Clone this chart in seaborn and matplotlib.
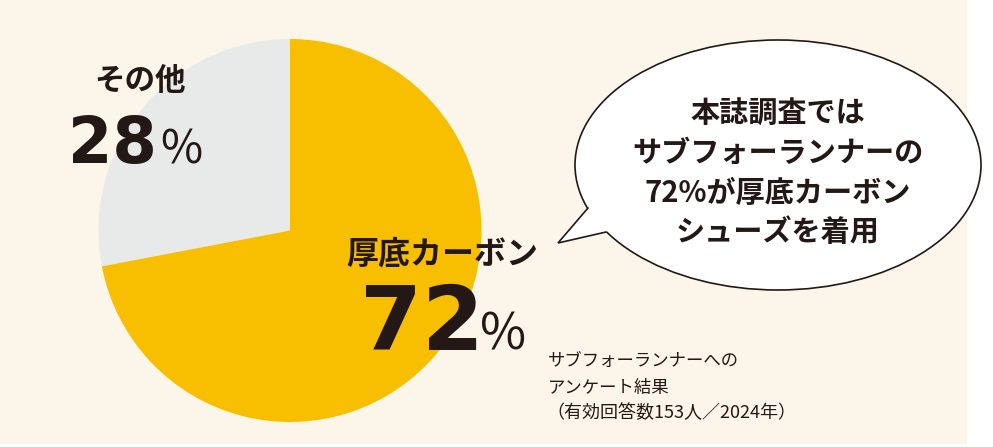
import matplotlib.pyplot as plt
from matplotlib.patches import Ellipse, Polygon, Rectangle
import seaborn as sns

# data
labels = ["その他", "厚底カーボン"]
shares = [28, 72]
bubble_lines = ["本誌調査では", "サブフォーランナーの", "72%が厚底カーボン", "シューズを着用"]
note_lines = ["サブフォーランナーへの", "アンケート結果", "（有効回答数153人／2024年）"]

sns.set_theme(style="white")
plt.rcParams['font.family'] = ['Noto Sans CJK JP', 'DejaVu Sans']

ink = '#231815'
cream = '#fcf6ea'
colors = ['#e8e9e9', '#f8bf00']

fig = plt.figure(figsize=(9.93, 4.47), dpi=100, facecolor='white')
ax = fig.add_axes([0, 0, 1, 1])

# cream panel (the picture has a thin white margin right and bottom)
ax.add_patch(Rectangle((0, 0), 967, 444, facecolor=cream, edgecolor='none', zorder=0))

# pie, y axis is flipped so angles run the other way
ax.pie(shares, colors=colors, startangle=-90, counterclock=False,
       center=(290, 230.5), radius=191.5, frame=True,
       wedgeprops=dict(linewidth=0, zorder=1))

# speech bubble
ax.add_patch(Ellipse((778, 165), 406, 250, facecolor='white', edgecolor=ink, linewidth=1.2, zorder=2))
tail = [(588, 208), (558, 243), (606, 232)]
ax.add_patch(Polygon(tail + [(630, 215)], closed=True, facecolor='white', edgecolor='none', zorder=3))
ax.plot([p[0] for p in tail], [p[1] for p in tail], color=ink, linewidth=1.2, zorder=4,
        solid_joinstyle='miter')

for i, line in enumerate(bubble_lines):
    ax.text(778, 114 + i * 39.3, line, ha='center', va='center', fontsize=21,
            fontweight='bold', color=ink, zorder=5)

# slice labels
ax.text(140, 81, labels[0], ha='center', va='center', fontsize=22, fontweight='bold', color=ink, zorder=5)
ax.text(68, 163, f"{shares[0]}", ha='left', va='baseline', fontsize=46, fontweight='bold',
        family='DejaVu Sans', color=ink, zorder=5)
ax.text(160, 163, "%", ha='left', va='baseline', fontsize=33, color=ink, zorder=5)

ax.text(346, 254, labels[1], ha='left', va='center', fontsize=23, fontweight='bold', color=ink, zorder=5)
ax.text(360, 350, f"{shares[1]}", ha='left', va='baseline', fontsize=64, fontweight='bold',
        family='DejaVu Sans', color=ink, zorder=5)
ax.text(480, 350, "%", ha='left', va='baseline', fontsize=36, color=ink, zorder=5)

for i, line in enumerate(note_lines):
    ax.text(546 if i == 2 else 548, 362 + i * 25.5, line, ha='left', va='center',
            fontsize=13 if i == 2 else 12.5, color=ink, zorder=5)

ax.set_xlim(0, 993)
ax.set_ylim(447, 0)
ax.set_aspect('equal')
ax.axis('off')

plt.savefig('out.png', dpi=100, facecolor='white')
